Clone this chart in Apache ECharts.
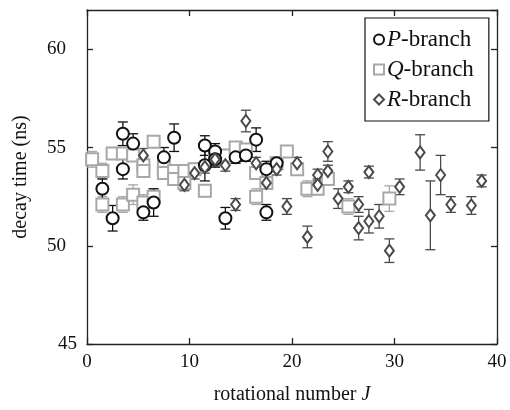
<!DOCTYPE html>
<html><head><meta charset="utf-8">
<script src="https://cdn.jsdelivr.net/npm/echarts@6/dist/echarts.min.js"></script>
<style>html,body{margin:0;padding:0;background:#fff}#c{width:510px;height:410px}</style>
</head><body><div id="c"></div>
<script>
// P-branch
const pJ = [1.5, 2.5, 3.5, 3.5, 4.5, 5.5, 6.5, 7.5, 8.5, 11.5, 11.5, 12.5, 12.5, 13.5, 14.5, 15.5, 16.5, 17.5, 17.5, 18.5];
const pV = [52.9, 51.4, 55.7, 53.9, 55.2, 51.7, 52.2, 54.5, 55.5, 55.1, 54.1, 54.8, 54.4, 51.4, 54.5, 54.6, 55.4, 53.9, 51.7, 54.2];
const pE = [0.5, 0.65, 0.6, 0.5, 0.5, 0.4, 0.7, 0.5, 0.7, 0.5, 0.8, 0.4, 0.4, 0.55, 0.3, 0.3, 0.6, 0.4, 0.4, 0.3];
// Q-branch
const qJ = [0.5, 1.5, 1.5, 2.5, 3.5, 3.5, 4.5, 4.5, 5.5, 5.5, 5.5, 6.5, 6.5, 7.5, 7.5, 8.5, 8.5, 9.5, 9.5, 10.5, 11.5, 12.5, 13.5, 14.5, 15.5, 16.5, 16.5, 17.5, 18.5, 19.5, 20.5, 21.5, 22.5, 23.5, 25.5, 29.5];
const qV = [54.4, 53.8, 52.1, 54.7, 54.7, 52.1, 54.6, 52.6, 54.1, 53.8, 52.2, 55.3, 52.5, 54.0, 53.7, 53.8, 53.4, 53.8, 53.2, 53.9, 52.8, 54.5, 54.6, 55.0, 54.9, 53.7, 52.5, 53.2, 54.2, 54.8, 53.9, 52.9, 52.9, 53.4, 52.0, 52.4];
const qE = [0.4, 0.4, 0.4, 0.3, 0.3, 0.4, 0.3, 0.5, 0.4, 0.3, 0.4, 0.3, 0.4, 0.3, 0.3, 0.3, 0.3, 0.3, 0.3, 0.3, 0.3, 0.3, 0.3, 0.3, 0.3, 0.3, 0.4, 0.3, 0.3, 0.3, 0.3, 0.4, 0.3, 0.3, 0.4, 0.65];
// R-branch
const rJ = [5.5, 9.5, 10.5, 11.5, 12.5, 13.5, 14.5, 15.5, 16.5, 17.5, 18.5, 19.5, 20.5, 21.5, 22.5, 22.5, 23.5, 23.5, 24.5, 25.5, 26.5, 26.5, 27.5, 27.5, 28.5, 29.5, 30.5, 32.5, 33.5, 34.5, 35.5, 37.5, 38.5];
const rV = [54.6, 53.1, 53.7, 54.0, 54.4, 54.1, 52.1, 56.35, 54.2, 53.2, 53.9, 52.0, 54.2, 50.45, 53.6, 53.1, 54.8, 53.8, 52.4, 53.0, 52.1, 50.9, 53.75, 51.25, 51.5, 49.75, 53.0, 54.75, 51.55, 53.6, 52.1, 52.05, 53.3];
const rE = [0.35, 0.3, 0.3, 0.3, 0.35, 0.3, 0.3, 0.55, 0.3, 0.3, 0.3, 0.4, 0.3, 0.55, 0.3, 0.3, 0.5, 0.3, 0.5, 0.3, 0.4, 0.6, 0.3, 0.6, 0.6, 0.6, 0.4, 0.9, 1.75, 1.0, 0.4, 0.45, 0.3];

const xTicks = [0, 10, 20, 30, 40];
const yTicks = [45, 50, 55, 60];

const FONT = '"Liberation Serif", "DejaVu Serif", serif';
const colP = '#111', colQ = '#a8a8a8', colR = '#4a4a4a';

function pts(J, V) { return J.map((j, i) => [j, V[i]]); }
function errs(J, V, E) { return J.map((j, i) => [j, V[i], E[i]]); }

function errSeries(J, V, E, color) {
  return {
    type: 'custom', silent: true,
    data: errs(J, V, E),
    encode: { x: 0, y: 1 },
    renderItem: function (params, api) {
      const x = api.value(0), v = api.value(1), e = api.value(2);
      const lo = api.coord([x, v - e]), hi = api.coord([x, v + e]);
      const w = 5;
      const st = { stroke: color, lineWidth: 1.3 };
      return { type: 'group', children: [
        { type: 'line', shape: { x1: lo[0], y1: lo[1], x2: hi[0], y2: hi[1] }, style: st },
        { type: 'line', shape: { x1: lo[0] - w, y1: lo[1], x2: lo[0] + w, y2: lo[1] }, style: st },
        { type: 'line', shape: { x1: hi[0] - w, y1: hi[1], x2: hi[0] + w, y2: hi[1] }, style: st }
      ]};
    }
  };
}
function mkLine() { return { show: true, onZero: false, lineStyle: { color: '#222', width: 1.3 } }; }
function mkTick() { return { show: true, inside: true, length: 6, lineStyle: { color: '#222', width: 1.3 } }; }

const chart = echarts.init(document.getElementById('c'));

chart.setOption({
  animation: false,
  grid: { left: 87, right: 13, top: 10, bottom: 65 },
  legend: {
    orient: 'vertical', left: 365, top: 18,
    padding: [10, 15, 10, 8], itemGap: 7, itemWidth: 10, itemHeight: 10,
    borderColor: '#111', borderWidth: 1.2,
    data: [
      { name: 'P', icon: 'emptyCircle', itemStyle: { color: colP, borderColor: colP, borderWidth: 1.3 } },
      { name: 'Q', icon: 'emptyRect', itemStyle: { color: colQ, borderColor: colQ, borderWidth: 1.5 } },
      { name: 'R', icon: 'emptyDiamond', itemStyle: { color: colR, borderColor: colR, borderWidth: 1.3 } }
    ],
    formatter: function (n) { return '{i|' + n + '}{n|-branch}'; },
    textStyle: {
      padding: [0, 0, 0, -2],
      rich: {
        i: { fontFamily: FONT, fontSize: 23, fontStyle: 'italic', color: '#111' },
        n: { fontFamily: FONT, fontSize: 23, color: '#111' }
      }
    }
  },
  xAxis: [
    { type: 'value', min: 0, max: 40, interval: 10, axisLine: mkLine(), axisTick: mkTick(), splitLine: { show: false },
      axisLabel: { fontFamily: FONT, fontSize: 19, color: '#111', margin: 9 },
      name: 'rotational number {i|J}', nameLocation: 'middle', nameGap: 41,
      nameTextStyle: { fontFamily: FONT, fontSize: 20, color: '#111',
        rich: { i: { fontFamily: FONT, fontSize: 20, fontStyle: 'italic', color: '#111' } } } },
    { type: 'value', position: 'top', min: 0, max: 40, interval: 10, axisLine: mkLine(), axisTick: mkTick(),
      axisLabel: { show: false }, splitLine: { show: false } }
  ],
  yAxis: [
    { type: 'value', min: 45, max: 62, interval: 5, axisLine: mkLine(), axisTick: mkTick(), splitLine: { show: false },
      axisLabel: { fontFamily: FONT, fontSize: 19, color: '#111', margin: 21,
        showMaxLabel: false,
        formatter: function (v) { return v === 45 ? '{s|45}' : String(v); },
        rich: { s: { fontFamily: FONT, fontSize: 19, color: '#111', padding: [0, -11, 0, 0] } } },
      name: 'decay time (ns)', nameLocation: 'middle', nameGap: 56, nameRotate: 90,
      nameTextStyle: { fontFamily: FONT, fontSize: 20, color: '#111' } },
    { type: 'value', position: 'right', min: 45, max: 62, interval: 5, axisLine: mkLine(), axisTick: mkTick(),
      axisLabel: { show: false }, splitLine: { show: false } }
  ],
  series: [
    errSeries(qJ, qV, qE, colQ),
    { name: 'Q', type: 'scatter', data: pts(qJ, qV), symbol: 'emptyRect', symbolSize: 12,
      itemStyle: { color: colQ, borderColor: colQ, borderWidth: 1.6, opacity: 1 } },
    errSeries(pJ, pV, pE, colP),
    { name: 'P', type: 'scatter', data: pts(pJ, pV), symbol: 'emptyCircle', symbolSize: 12,
      itemStyle: { color: colP, borderColor: colP, borderWidth: 1.4, opacity: 1 } },
    errSeries(rJ, rV, rE, colR),
    { name: 'R', type: 'scatter', data: pts(rJ, rV), symbol: 'emptyDiamond', symbolSize: [9, 12],
      itemStyle: { color: colR, borderColor: colR, borderWidth: 1.3, opacity: 1 } }
  ]
});
</script></body></html>
